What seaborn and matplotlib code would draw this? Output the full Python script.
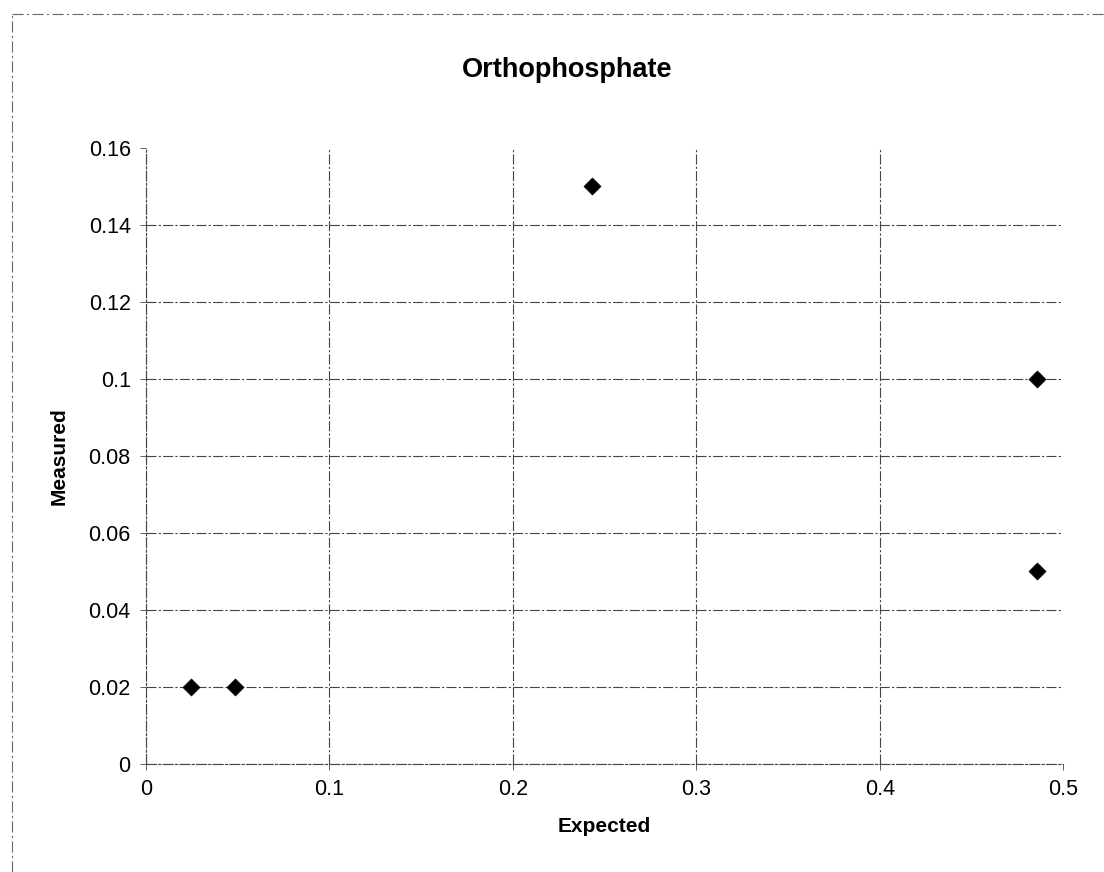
import numpy as np
import pandas as pd
import matplotlib; matplotlib.use("Agg")
import matplotlib.pyplot as plt
from matplotlib.lines import Line2D
import seaborn as sns

# data
expected = [0.0243, 0.0486, 0.243, 0.486, 0.486]
measured = [0.02, 0.02, 0.15, 0.10, 0.05]
x_ticks = [0, 0.1, 0.2, 0.3, 0.4, 0.5]
x_tick_labels = ["0", "0.1", "0.2", "0.3", "0.4", "0.5"]
y_ticks = [0, 0.02, 0.04, 0.06, 0.08, 0.10, 0.12, 0.14, 0.16]
y_tick_labels = ["0", "0.02", "0.04", "0.06", "0.08", "0.1", "0.12", "0.14", "0.16"]

df = pd.DataFrame({"Expected": expected, "Measured": measured})

sns.set_theme(style="white")
plt.rcParams["font.family"] = ["Liberation Sans", "DejaVu Sans"]
plt.rcParams["text.color"] = "black"

fig = plt.figure(figsize=(11.04, 8.72), dpi=100)
ax = fig.add_axes([0.1322, 0.1239, 0.8308, 0.7064])

sns.scatterplot(data=df, x="Expected", y="Measured", marker="D", color="black",
                s=75, edgecolor="black", linewidth=0.5, ax=ax, zorder=3)

ax.set_xlim(0, 0.5)
ax.set_ylim(0, 0.16)
ax.set_xticks(x_ticks)
ax.set_xticklabels(x_tick_labels, fontsize=15.5, color="black")
ax.set_yticks(y_ticks)
ax.set_yticklabels(y_tick_labels, fontsize=15.5, color="black")
ax.tick_params(axis="both", length=4, width=0.6, color="#444444", pad=7,
               direction="out", bottom=True, left=True)

# dash-dot grid like the scanned Excel chart; no top/right gridline
grid_ls = (0, (9, 2, 2, 2))
ax.grid(True, color="#444444", linewidth=0.8, linestyle=grid_ls)
ax.yaxis.get_gridlines()[-1].set_visible(False)
ax.xaxis.get_gridlines()[-1].set_visible(False)
for side, s in ax.spines.items():
    if side in ("left", "bottom"):
        s.set_visible(True)
        s.set_color("#444444")
        s.set_linewidth(0.8)
        s.set_linestyle(grid_ls)
    else:
        s.set_visible(False)

ax.set_xlabel("Expected", fontsize=15, fontweight="bold", labelpad=12, color="black")
ax.set_ylabel("Measured", fontsize=15, fontweight="bold", labelpad=14, color="black")

fig.text(0.514, 0.92, "Orthophosphate", ha="center", va="center",
         fontsize=19.5, fontweight="bold", color="black")

# faint chart border
border = dict(color="#666666", linewidth=0.8, linestyle=(0, (10, 3, 2, 3)))
fig.add_artist(Line2D([0.011, 1.0], [0.984, 0.984], transform=fig.transFigure, **border))
fig.add_artist(Line2D([0.011, 0.011], [0.0, 0.984], transform=fig.transFigure, **border))

fig.savefig("out.png", dpi=100)
plt.close(fig)
